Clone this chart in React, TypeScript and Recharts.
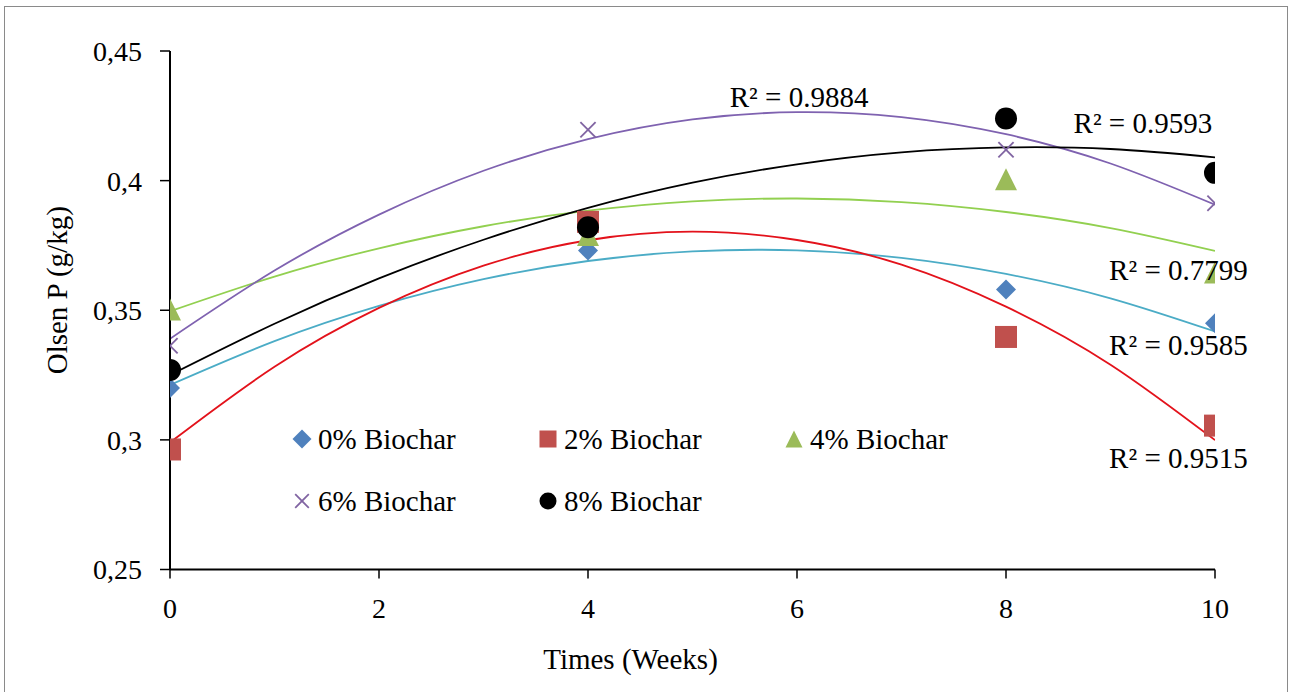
import { ComposedChart, Scatter, Line, XAxis, YAxis, Legend, ReferenceDot } from 'recharts'

const FONT = '"Liberation Serif", "Times New Roman", serif'

// measured values (weeks 0, 4, 8, 10)
const weeks = [0, 4, 8, 10]
const biochar0 = [0.32, 0.373, 0.358, 0.345]
const biochar2 = [0.2963, 0.3841, 0.3397, 0.3055]
const biochar4 = [0.3503, 0.379, 0.4005, 0.3646]
const biochar6 = [0.3363, 0.4196, 0.4119, 0.3913]
const biochar8 = [0.327, 0.382, 0.424, 0.403]

// polynomial trendlines at every week
const trendWeeks = [0, 1, 2, 3, 4, 5, 6, 7, 8, 9, 10]
const trend0 = [0.3212, 0.3381, 0.3517, 0.362, 0.369, 0.3727, 0.3731, 0.3702, 0.364, 0.3546, 0.3418]
const trend2 = [0.299, 0.3282, 0.3509, 0.3672, 0.377, 0.3803, 0.3771, 0.3676, 0.3514, 0.329, 0.2999]
const trend4 = [0.3496, 0.363, 0.3739, 0.3824, 0.3884, 0.392, 0.3931, 0.3917, 0.3879, 0.3817, 0.3729]
const trend6 = [0.339, 0.3653, 0.3869, 0.4038, 0.416, 0.4236, 0.4264, 0.4245, 0.4179, 0.4066, 0.3907]
const trend8 = [0.325, 0.3448, 0.3623, 0.3772, 0.3895, 0.3992, 0.4063, 0.4109, 0.4128, 0.4122, 0.409]

const xTicks = [0, 2, 4, 6, 8, 10]
const yTicks = [0.25, 0.3, 0.35, 0.4, 0.45]

// R² labels: text and where it sits in data space
const r2Labels = [
  { text: 'R² = 0.9884', x: 6.02, y: 0.4323 },
  { text: 'R² = 0.9593', x: 9.31, y: 0.4223 },
  { text: 'R² = 0.7799', x: 9.65, y: 0.3655 },
  { text: 'R² = 0.9585', x: 9.65, y: 0.3366 },
  { text: 'R² = 0.9515', x: 9.65, y: 0.293 },
]

const series = [
  { name: '0% Biochar', values: biochar0, trend: trend0, shape: 'diamond', color: '#4F81BD', line: '#4BACC6' },
  { name: '2% Biochar', values: biochar2, trend: trend2, shape: 'square', color: '#C0504D', line: '#E3121B' },
  { name: '4% Biochar', values: biochar4, trend: trend4, shape: 'triangle', color: '#9BBB59', line: '#92D050' },
  { name: '6% Biochar', values: biochar6, trend: trend6, shape: 'cross', color: '#8064A2', line: '#7F62B0' },
  { name: '8% Biochar', values: biochar8, trend: trend8, shape: 'circle', color: '#000000', line: '#000000' },
]

function marker(shape: string, cx: number, cy: number, size: number, color: string) {
  const h = size / 2
  if (shape === 'diamond') {
    return <polygon points={`${cx},${cy - h} ${cx + h},${cy} ${cx},${cy + h} ${cx - h},${cy}`} fill={color} />
  }
  if (shape === 'square') return <rect x={cx - h} y={cy - h} width={size} height={size} fill={color} />
  if (shape === 'triangle') {
    return <polygon points={`${cx},${cy - h} ${cx + h},${cy + h} ${cx - h},${cy + h}`} fill={color} />
  }
  if (shape === 'cross') {
    const c = h * 0.8
    return (
      <g stroke={color} strokeWidth={1.8}>
        <line x1={cx - c} y1={cy - c} x2={cx + c} y2={cy + c} />
        <line x1={cx - c} y1={cy + c} x2={cx + c} y2={cy - c} />
      </g>
    )
  }
  return <circle cx={cx} cy={cy} r={h} fill={color} />
}

const XTitle = (props: any) => {
  const { x, y, width } = props.viewBox
  return (
    <text x={x + width / 2 - 62} y={y + 99} textAnchor="middle" fontSize={29} fontFamily={FONT} fill="#000">
      Times (Weeks)
    </text>
  )
}

const YTitle = (props: any) => {
  const { x, y, height } = props.viewBox
  const cx = x + 67
  const cy = y + height / 2 - 20
  return (
    <text transform={`translate(${cx},${cy}) rotate(-90)`} textAnchor="middle" fontSize={29} fontFamily={FONT} fill="#000">
      Olsen P (g/kg)
    </text>
  )
}

const LegendBox = () => (
  <div style={{ display: 'grid', gridTemplateColumns: 'repeat(3, 246px)', fontFamily: FONT, fontSize: 29, color: '#000' }}>
    {series.map((s) => (
      <div key={s.name} style={{ display: 'flex', alignItems: 'center', height: 62, whiteSpace: 'nowrap' }}>
        <svg width={20} height={20} style={{ marginRight: 6 }}>
          {marker(s.shape, 10, 10, s.shape === 'diamond' ? 19 : 17, s.color)}
        </svg>
        <span>{s.name}</span>
      </div>
    ))}
  </div>
)

const fmt = (v: number) => String(v).replace('.', ',')

export default function App() {
  return (
    <div style={{ position: 'absolute', left: 0, top: 0, width: 1290, height: 692, background: '#fff', fontFamily: FONT }}>
      <div
        style={{
          position: 'absolute', left: 4, top: 6, width: 1282, height: 690,
          borderTop: '1.5px solid #8a8a8a', borderLeft: '1.5px solid #8a8a8a', borderRight: '1.5px solid #8a8a8a',
        }}
      />
      <ComposedChart width={1290} height={692} margin={{ top: 51, right: 75, bottom: 0, left: 0 }}>
        <XAxis
          type="number"
          dataKey="x"
          domain={[0, 10]}
          ticks={xTicks}
          allowDataOverflow
          height={122.5}
          tickSize={9}
          tickMargin={20}
          axisLine={{ stroke: '#000', strokeWidth: 2 }}
          tickLine={{ stroke: '#000', strokeWidth: 1.5 }}
          tick={{ fontSize: 28, fill: '#000', fontFamily: FONT }}
          label={{ content: XTitle }}
        />
        <YAxis
          type="number"
          dataKey="y"
          domain={[0.25, 0.45]}
          ticks={yTicks}
          allowDataOverflow
          width={170}
          tickSize={10}
          tickMargin={18}
          tickFormatter={fmt}
          axisLine={{ stroke: '#000', strokeWidth: 2 }}
          tickLine={{ stroke: '#000', strokeWidth: 1.5 }}
          tick={{ fontSize: 28, fill: '#000', fontFamily: FONT }}
          label={{ content: YTitle }}
        />
        <Legend
          layout="horizontal"
          verticalAlign="middle"
          align="center"
          wrapperStyle={{ left: 292, top: 408, width: 760, height: 124 }}
          content={() => <LegendBox />}
        />
        {series.map((s) => (
          <Line
            key={'t' + s.name}
            data={trendWeeks.map((w, i) => ({ x: w, y: s.trend[i] }))}
            dataKey="y"
            type="natural"
            stroke={s.line}
            strokeWidth={1.8}
            dot={false}
            activeDot={false}
            legendType="none"
            isAnimationActive={false}
          />
        ))}
        {series.map((s) => (
          <Scatter
            key={s.name}
            name={s.name}
            data={weeks.map((w, i) => ({ x: w, y: s.values[i] }))}
            dataKey="y"
            shape={(p: any) => marker(s.shape, p.cx, p.cy, s.shape === 'diamond' ? 20 : s.shape === 'cross' ? 19 : 22, s.color)}
            isAnimationActive={false}
          />
        ))}
        {r2Labels.map((l) => (
          <ReferenceDot
            key={l.text}
            x={l.x}
            y={l.y}
            r={0}
            fill="none"
            stroke="none"
            ifOverflow="visible"
            label={{ value: l.text, position: 'center', fontSize: 29, fill: '#000', fontFamily: FONT }}
          />
        ))}
      </ComposedChart>
    </div>
  )
}
